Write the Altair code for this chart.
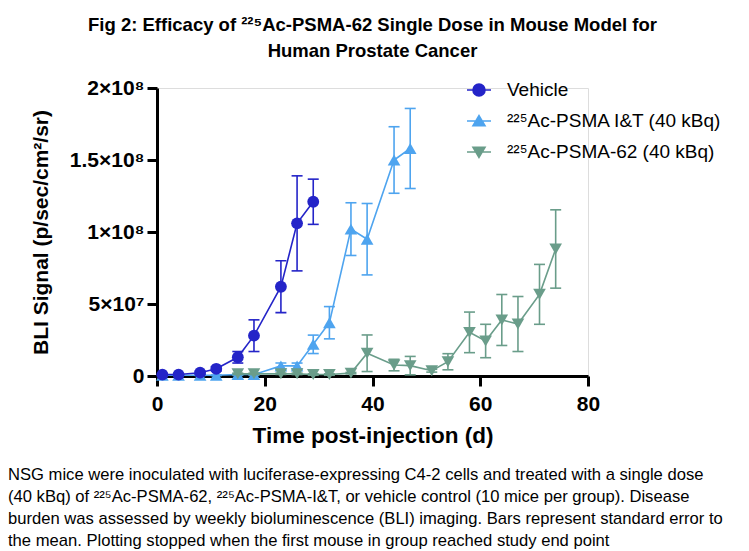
import altair as alt
import pandas as pd

# Study groups in legend order, with their colours and markers
groups = ["Vehicle", "²²⁵Ac-PSMA I&T (40 kBq)", "²²⁵Ac-PSMA-62 (40 kBq)"]
colors = ["#2424c8", "#4ea4ef", "#6a9d8a"]
marker_shapes = ["circle", "triangle-up", "triangle-down"]

# Mean BLI signal and SEM per imaging day, in units of 1e7 p/sec/cm²/sr
vehicle_day = [1, 4, 8, 11, 15, 18, 23, 26, 29]
vehicle_mean = [0.1, 0.1, 0.23, 0.5, 1.3, 2.8, 6.2, 10.6, 12.1]
vehicle_sem = [0.05, 0.05, 0.1, 0.15, 0.4, 1.1, 1.8, 3.3, 1.57]

iat_day = [1, 4, 8, 11, 15, 18, 23, 26, 29, 32, 36, 39, 44, 47]
iat_mean = [0.05, 0.05, 0.05, 0.05, 0.1, 0.1, 0.7, 0.7, 2.2, 3.7, 10.2, 9.5, 15.0, 15.8]
iat_sem = [0.02, 0.02, 0.02, 0.02, 0.05, 0.05, 0.2, 0.2, 0.64, 1.12, 1.83, 2.48, 2.31, 2.78]

psma62_day = [15, 18, 23, 26, 29, 32, 36, 39, 44, 47, 51, 54, 58, 61, 64, 67, 71, 74]
psma62_mean = [0.15, 0.15, 0.15, 0.15, 0.1, 0.1, 0.2, 1.58, 0.76, 0.72, 0.37, 0.99,
               3.03, 2.43, 3.89, 3.61, 5.67, 8.82]
psma62_sem = [0.05, 0.05, 0.05, 0.05, 0.05, 0.05, 0.05, 1.27, 0.4, 0.64, 0.1, 0.56,
              1.41, 1.16, 1.77, 1.91, 2.08, 2.72]

x_ticks = [0, 20, 40, 60, 80]
y_ticks = [0, 5e7, 1e8, 1.5e8, 2e8]
y_tick_labels = ["0", "5×10⁷", "1×10⁸", "1.5×10⁸", "2×10⁸"]

title_lines = [
    "Fig 2: Efficacy of ²²⁵Ac-PSMA-62 Single Dose in Mouse Model for",
    "Human Prostate Cancer",
]
caption_lines = [
    "NSG mice were inoculated with luciferase-expressing C4-2 cells and treated with a single dose",
    "(40 kBq) of ²²⁵Ac-PSMA-62, ²²⁵Ac-PSMA-I&T, or vehicle control (10 mice per group). Disease",
    "burden was assessed by weekly bioluminescence (BLI) imaging. Bars represent standard error to",
    "the mean. Plotting stopped when the first mouse in group reached study end point",
]

SCALE = 1e7
SANS = "Liberation Sans, Arial, Helvetica"


def group_frame(name, days, means, sems):
    return pd.DataFrame({
        "group": name,
        "day": days,
        "bli": [m * SCALE for m in means],
        "sem": [s * SCALE for s in sems],
    })


frames = {
    groups[0]: group_frame(groups[0], vehicle_day, vehicle_mean, vehicle_sem),
    groups[1]: group_frame(groups[1], iat_day, iat_mean, iat_sem),
    groups[2]: group_frame(groups[2], psma62_day, psma62_mean, psma62_sem),
}

y_label_expr = " : ".join(
    f"datum.value == {v} ? '{lab}'" for v, lab in zip(y_ticks[:-1], y_tick_labels[:-1])
) + f" : '{y_tick_labels[-1]}'"

x_scale = alt.Scale(domain=[0, 80], nice=False)
y_scale = alt.Scale(domain=[0, 2e8], nice=False)

x_axis = alt.Axis(
    values=x_ticks, title="Time post-injection (d)", grid=False, labelFlush=False,
    domainColor="black", domainWidth=3, tickColor="black", tickWidth=3, tickSize=10,
    labelFont=SANS, labelFontWeight="bold", labelFontSize=21, labelColor="black",
    labelPadding=7, titleFont=SANS, titleFontWeight="bold", titleFontSize=22.5,
    titleColor="black", titlePadding=10,
)
y_axis = alt.Axis(
    values=y_ticks, labelExpr=y_label_expr, title="BLI Signal (p/sec/cm²/sr)", grid=False,
    labelFlush=False,
    domainColor="black", domainWidth=3, tickColor="black", tickWidth=3, tickSize=10,
    labelFont=SANS, labelFontWeight="bold", labelFontSize=21, labelColor="black",
    labelPadding=3, titleFont=SANS, titleFontWeight="bold", titleFontSize=21,
    titleColor="black", titlePadding=18,
)


def series_layers(name, color, shape):
    base = alt.Chart(frames[name]).encode(
        x=alt.X("day:Q", scale=x_scale, axis=x_axis),
        y=alt.Y("bli:Q", scale=y_scale, axis=y_axis),
    )
    line = base.mark_line(color=color, strokeWidth=1.6)
    bars = base.transform_calculate(
        lo="datum.bli - datum.sem", hi="datum.bli + datum.sem"
    )
    err = bars.mark_rule(color=color, strokeWidth=1.6).encode(
        y=alt.Y("lo:Q", scale=y_scale, axis=y_axis), y2="hi:Q"
    )
    cap_lo = bars.mark_tick(color=color, orient="horizontal", size=11, thickness=1.6,
                            opacity=1).encode(y=alt.Y("lo:Q", scale=y_scale, axis=y_axis))
    cap_hi = bars.mark_tick(color=color, orient="horizontal", size=11, thickness=1.6,
                            opacity=1).encode(y=alt.Y("hi:Q", scale=y_scale, axis=y_axis))
    size = 140 if shape == "circle" else 160
    pts = base.mark_point(filled=True, color=color, shape=shape, size=size, opacity=1)
    return [line, err, cap_lo, cap_hi, pts]


# Legend symbols: a short line through the group's marker
legend_paths = [
    "M-1,0L1,0M-0.5,0A0.5,0.5,0,1,1,0.5,0A0.5,0.5,0,1,1,-0.5,0Z",
    "M-1,0L1,0M0,-0.45L0.5,0.4L-0.5,0.4Z",
    "M-1,0L1,0M0,0.45L0.5,-0.4L-0.5,-0.4Z",
]
legend_def = alt.Legend(
    orient="none", legendX=309, legendY=-11, title=None,
    symbolSize=576, symbolStrokeWidth=1.6, labelFont=SANS, labelFontSize=19,
    labelColor="black", labelOffset=15, rowPadding=8, labelLimit=400,
)
legend_layer = alt.Chart(pd.DataFrame({"group": groups})).transform_filter(
    "datum.group == 'none'"
).mark_point(filled=True, opacity=1).encode(
    fill=alt.Fill("group:N", scale=alt.Scale(domain=groups, range=colors), legend=legend_def),
    stroke=alt.Stroke("group:N", scale=alt.Scale(domain=groups, range=colors), legend=legend_def),
    shape=alt.Shape("group:N", scale=alt.Scale(domain=groups, range=legend_paths), legend=legend_def),
)

caption = alt.Chart(pd.DataFrame({"text": ["\n".join(caption_lines)]})).mark_text(
    align="left", baseline="top", font=SANS, fontSize=16.6, lineHeight=22,
    color="black", lineBreak="\n",
).encode(text="text:N", x=alt.value(-149), y=alt.value(379))

layers = []
for name, color, shape in [(groups[1], colors[1], marker_shapes[1]),
                           (groups[2], colors[2], marker_shapes[2]),
                           (groups[0], colors[0], marker_shapes[0])]:
    layers += series_layers(name, color, shape)

chart = alt.layer(*layers, legend_layer, caption).properties(
    width=431, height=288,
    autosize=alt.AutoSizeParams(type="none"),
    padding={"left": 157, "top": 88, "right": 161, "bottom": 175},
    title=alt.TitleParams(
        text=title_lines, font=SANS, fontSize=18.5, fontWeight="bold", color="black",
        anchor="middle", offset=17, lineHeight=26,
    ),
).configure_view(stroke=None).configure(background="white")

chart.save("out.html", embed_options={"renderer": "svg", "actions": False})
